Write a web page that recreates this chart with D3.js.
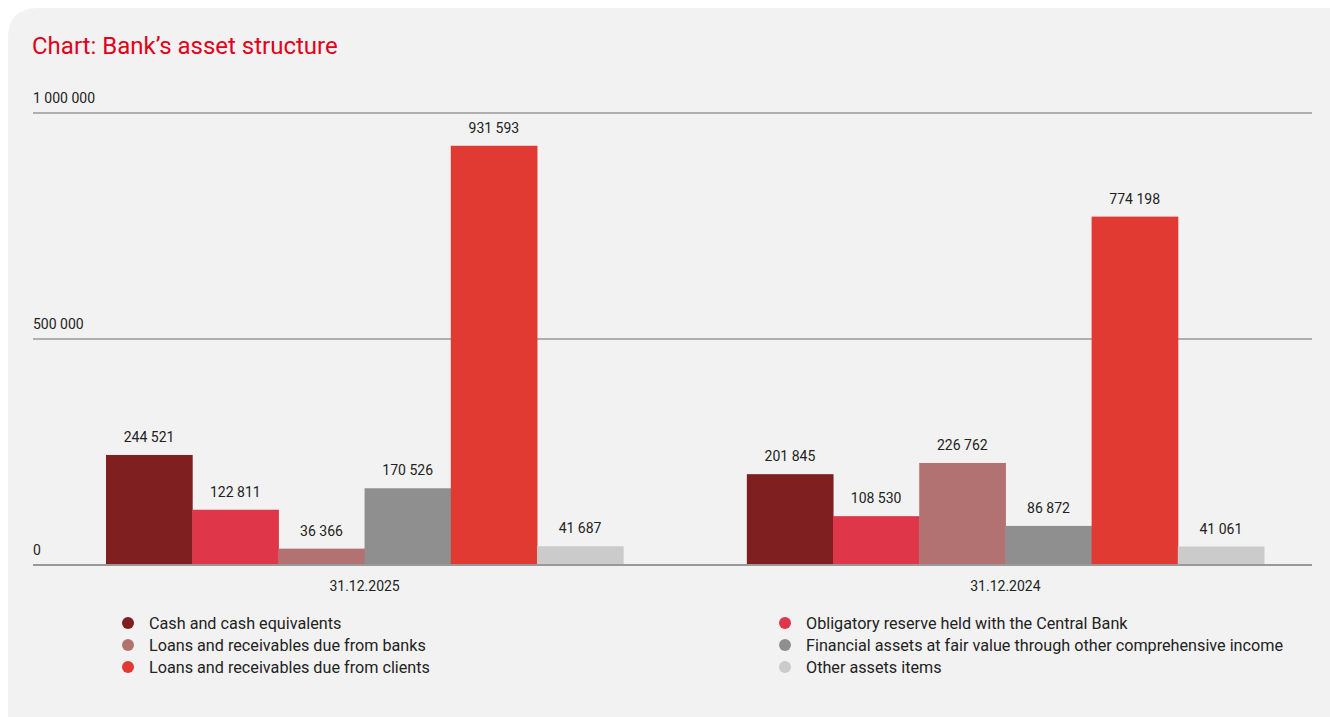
<!DOCTYPE html>
<html>
<head>
<meta charset="utf-8">
<script src="https://cdn.jsdelivr.net/npm/d3@7"></script>
<style>
    html, body { margin: 0; padding: 0; background: #ffffff; }
    #chart { width: 1330px; height: 717px; }
    text { font-family: Roboto, "Noto Sans", sans-serif; fill: #222; }
</style>
</head>
<body>
<div id="chart"></div>
<script>
const groups = ["31.12.2025", "31.12.2024"];
const series = [
    "Cash and cash equivalents",
    "Obligatory reserve held with the Central Bank",
    "Loans and receivables due from banks",
    "Financial assets at fair value through other comprehensive income",
    "Loans and receivables due from clients",
    "Other assets items"
];
const values2025 = [244521, 122811, 36366, 170526, 931593, 41687];
const values2024 = [201845, 108530, 226762, 86872, 774198, 41061];
const yTicks = [0, 500000, 1000000];
const colors = ["#7f1f1f", "#e0364a", "#b37272", "#8f8f8f", "#e03a33", "#cbcbcb"];

const width = 1330, height = 717;
const fmt = (v) => d3.format(",")(v).replace(/,/g, " ");

const svg = d3.select("#chart").append("svg")
    .attr("width", width)
    .attr("height", height);

// card background with rounded top-left corner
const cx = 8, cy = 8, r = 30;
svg.append("path")
    .attr("d", `M${cx},${cy + r} Q${cx},${cy} ${cx + r},${cy} L${width},${cy} L${width},${height} L${cx},${height} Z`)
    .attr("fill", "#f2f2f2");

svg.append("text")
    .attr("x", 32)
    .attr("y", 54)
    .style("font-size", "24px")
    .style("fill", "#e2001a")
    .text("Chart: Bank\u2019s asset structure");

const y = d3.scaleLinear().domain([0, 1000000]).range([565, 115]);
const x0 = d3.scaleBand().domain(groups).range([106, 1264]).paddingInner(0.193).paddingOuter(0);
const x1 = d3.scaleBand().domain(series).range([0, x0.bandwidth()]).padding(0);

// grid (lines kept at the picture's 0 / 500 000 / 1 000 000 rows)
const gridY = d3.scaleLinear().domain([0, 1000000]).range([565, 113]);
const grid = svg.append("g");
grid.selectAll("line")
    .data(yTicks)
    .enter()
    .append("line")
    .attr("x1", 33)
    .attr("x2", 1312)
    .attr("y1", (d) => gridY(d))
    .attr("y2", (d) => gridY(d))
    .attr("stroke", "#999")
    .attr("stroke-width", 1.5);
grid.selectAll("text")
    .data(yTicks)
    .enter()
    .append("text")
    .attr("x", 33)
    .attr("y", (d) => gridY(d) - 10)
    .style("font-size", "14px")
    .text((d) => fmt(d));

const data = groups.map((g, gi) => ({
    group: g,
    values: series.map((s, si) => ({ s, si, v: gi === 0 ? values2025[si] : values2024[si] }))
}));

const groupG = svg.selectAll("g.grp")
    .data(data)
    .enter()
    .append("g")
    .attr("class", "grp")
    .attr("transform", (d) => "translate(" + x0(d.group) + ",0)");

groupG.selectAll("rect")
    .data((d) => d.values)
    .enter()
    .append("rect")
    .attr("x", (d) => x1(d.s))
    .attr("width", x1.bandwidth() + 0.5)
    .attr("y", (d) => y(d.v))
    .attr("height", (d) => y(0) - y(d.v))
    .attr("fill", (d) => colors[d.si]);

groupG.selectAll("text.val")
    .data((d) => d.values)
    .enter()
    .append("text")
    .attr("class", "val")
    .attr("x", (d) => x1(d.s) + x1.bandwidth() / 2)
    .attr("y", (d) => y(d.v) - 13)
    .attr("text-anchor", "middle")
    .style("font-size", "14px")
    .text((d) => fmt(d.v));

// baseline on top of bars
svg.append("line")
    .attr("x1", 33).attr("x2", 1312)
    .attr("y1", y(0)).attr("y2", y(0))
    .attr("stroke", "#999")
    .attr("stroke-width", 2);

groupG.append("text")
    .attr("x", x0.bandwidth() / 2)
    .attr("y", 591)
    .attr("text-anchor", "middle")
    .style("font-size", "14px")
    .text((d) => d.group);

// legend: two columns, filled row by row
const legend = svg.selectAll("g.legend")
    .data(series)
    .enter()
    .append("g")
    .attr("class", "legend")
    .attr("transform", (d, i) => {
        const col = i % 2, row = Math.floor(i / 2);
        return "translate(" + (col === 0 ? 128 : 785) + "," + (623 + row * 22) + ")";
    });
legend.append("circle")
    .attr("r", 6)
    .attr("fill", (d, i) => colors[i]);
legend.append("text")
    .attr("x", 21)
    .attr("y", 5.5)
    .style("font-size", "16.2px")
    .text((d) => d);
</script>
</body>
</html>
